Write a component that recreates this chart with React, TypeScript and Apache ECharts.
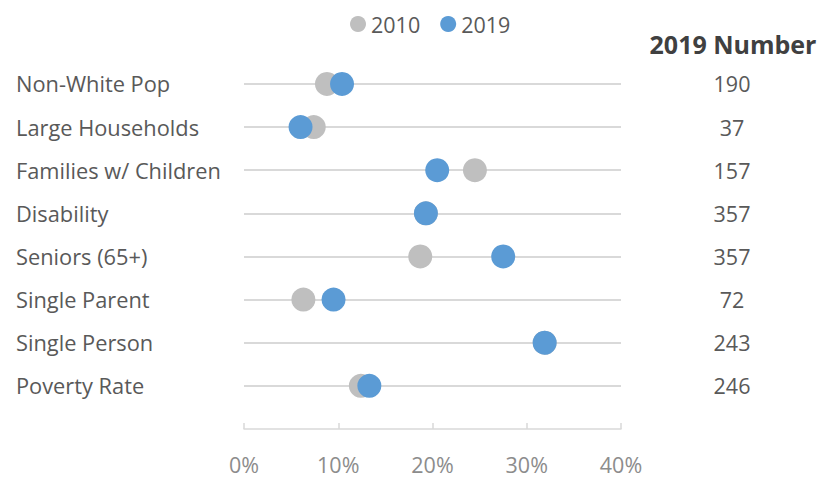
import React, { useEffect, useRef } from "react";
import * as echarts from "echarts";

const categories = [
  "Non-White Pop",
  "Large Households",
  "Families w/ Children",
  "Disability",
  "Seniors (65+)",
  "Single Parent",
  "Single Person",
  "Poverty Rate",
];
const values2010 = [8.8, 7.4, 24.5, 19.3, 18.7, 6.3, 31.9, 12.4];
const values2019 = [10.4, 6.0, 20.5, 19.3, 27.5, 9.5, 31.9, 13.3];
const numbers2019 = [190, 37, 157, 357, 357, 72, 243, 246];
const xTicks = [0, 10, 20, 30, 40];

const FONT = "'Open Sans', 'Noto Sans', sans-serif";

export default function App() {
  const ref = useRef<HTMLDivElement>(null);
  useEffect(() => {
    if (!ref.current) return;
    const chart = echarts.init(ref.current, null, { renderer: "svg" });
    const splitColors = ["transparent", ...categories.map(() => "#d9d9d9"), "transparent"];
    const toPts = (arr: number[]) => arr.map((v, i) => [v, i + 1]);
    chart.setOption({
      animation: false,
      textStyle: { fontFamily: FONT },
      legend: {
        top: 8,
        left: 345,
        data: ["2010", "2019"],
        icon: "circle",
        itemWidth: 16,
        itemHeight: 16,
        itemGap: 20,
        textStyle: { fontSize: 21.5, color: "#595959", fontFamily: FONT },
      },
      grid: { left: 244, right: 201, top: 40.8, bottom: 48, containLabel: false },
      xAxis: {
        type: "value",
        position: "bottom",
        min: xTicks[0],
        max: xTicks[xTicks.length - 1],
        interval: 10,
        axisLine: { show: true, onZero: false, lineStyle: { color: "#d9d9d9", width: 1.5 } },
        axisTick: { show: true, inside: true, length: 6, lineStyle: { color: "#d9d9d9", width: 1.5 } },
        splitLine: { show: false },
        axisLabel: {
          formatter: (v: number) => `${v}%`,
          fontSize: 21.5,
          lineHeight: 20,
          color: "#8c8c8c",
          margin: 25,
          fontFamily: FONT,
        },
      },
      yAxis: [
        {
          type: "value",
          min: 0,
          max: categories.length + 1,
          interval: 1,
          inverse: true,
          axisLine: { show: false },
          axisTick: { show: false },
          splitLine: { show: true, lineStyle: { color: splitColors, width: 2 } },
          axisLabel: {
            formatter: (v: number) => categories[v - 1] ?? "",
            align: "left",
            margin: 228,
            fontSize: 21.8,
            color: "#595959",
            fontFamily: FONT,
          },
        },
        {
          type: "value",
          position: "right",
          min: 0,
          max: categories.length + 1,
          interval: 1,
          inverse: true,
          axisLine: { show: false },
          axisTick: { show: false },
          splitLine: { show: false },
          axisLabel: {
            formatter: (v: number) => (numbers2019[v - 1] !== undefined ? String(numbers2019[v - 1]) : ""),
            align: "center",
            margin: 111,
            fontSize: 21.5,
            color: "#595959",
            fontFamily: FONT,
          },
        },
      ],
      graphic: [
        {
          type: "text",
          x: 733,
          y: 44,
          style: {
            text: "2019 Number",
            fontSize: 25,
            fontWeight: "bold",
            fill: "#404040",
            fontFamily: FONT,
            textAlign: "center",
            textVerticalAlign: "middle",
          },
        },
      ],
      series: [
        {
          name: "2010",
          type: "scatter",
          data: toPts(values2010),
          symbol: "circle",
          symbolSize: 24,
          itemStyle: { color: "#bfbfbf", opacity: 1 },
          z: 2,
        },
        {
          name: "2019",
          type: "scatter",
          data: toPts(values2019),
          symbol: "circle",
          symbolSize: 24,
          itemStyle: { color: "#5b9bd5", opacity: 1 },
          z: 3,
        },
      ],
    });
    return () => chart.dispose();
  }, []);
  return <div ref={ref} style={{ width: 822, height: 477, position: "absolute", left: 0, top: 0 }} />;
}
